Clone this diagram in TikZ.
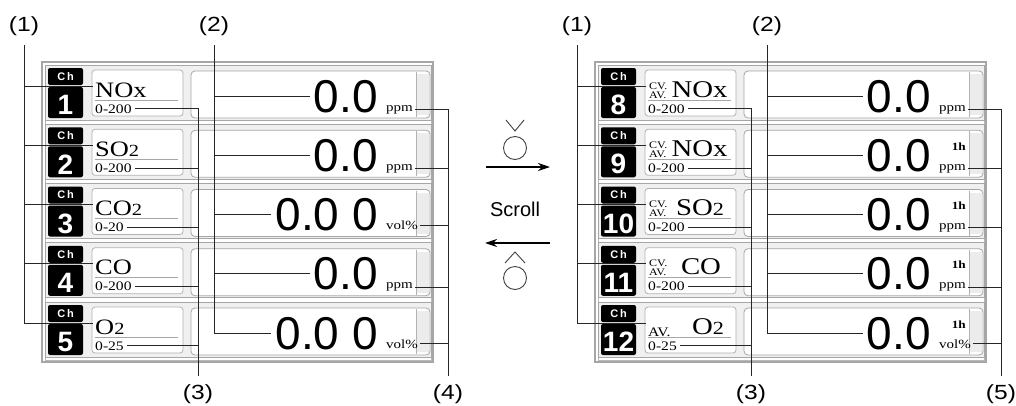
\documentclass[tikz,border=0pt]{standalone}
\usepackage{fontspec}
\setmainfont{Liberation Sans}
\newfontfamily\serifw[FakeStretch=1.2]{Liberation Serif}
\newfontfamily\sansw{Liberation Sans}
\newfontfamily\lblfont[FakeStretch=1.2]{Liberation Sans}
\usetikzlibrary{arrows.meta}
\newcommand{\myfs}[1]{\fontsize{#1}{#1}\selectfont}

\tikzset{
 lead/.style={draw=black!85, line width=0.9pt},
 rowbg/.style={draw=gray!70, fill=gray!12, line width=0.8pt},
 frameout/.style={draw=gray!70, fill=white, line width=1.2pt},
 frameinn/.style={draw=gray!55, line width=0.7pt},
 namebox/.style={draw=gray!60, fill=white, rounded corners=3pt, line width=0.8pt},
 valbox/.style={draw=gray!70, fill=white, rounded corners=4pt, line width=0.8pt},
 chhead/.style={text=white, inner sep=0pt, font=\sansw\bfseries\myfs{11}},
 chnum/.style={text=white, inner sep=0pt, font=\sansw\bfseries\myfs{28}},
 nametxt/.style={inner sep=0pt, font=\serifw\myfs{22}},
 rnametxt/.style={inner sep=0pt, font=\serifw\myfs{24}},
 cvtxt/.style={inner sep=0pt, font=\serifw\myfs{10}},
 rangetxt/.style={inner ysep=0pt, inner xsep=3pt, font=\serifw\myfs{13}},
 valtxt/.style={inner ysep=0pt, inner xsep=4pt, font=\sansw\myfs{46}},
 unittxt/.style={inner ysep=0pt, inner xsep=2pt, font=\serifw\myfs{12.5}},
 hourtxt/.style={inner sep=0pt, font=\serifw\bfseries\myfs{11}},
 ulinestyle/.style={draw=gray!70, line width=1pt},
 lbl/.style={font=\lblfont\myfs{20.5}, inner sep=0pt},
 scrollarrow/.style={line width=2.2pt, -{Stealth[length=12pt,width=8pt]}},
 keyicon/.style={draw=black!75, line width=0.9pt},
}

\newcommand{\dispframe}[3]{%
  \draw[rowbg] (45,#2-3) rectangle (431,#2+52);
  \fill[black, rounded corners=2pt] (48,#2) rectangle (83,#2+17);
  \fill[black, rounded corners=2pt] (48,#2+19) rectangle (83,#2+50);
  \node[chhead] (chh#1) at (65.5,#2+8.5) {C\,h};
  \node[chnum] (chn#1) at (65.5,#2+37) {#3};
  \draw[namebox] (92,#2+2) rectangle (183,#2+48);
  \draw[valbox] (191,#2+3) rectangle (430,#2+50);
  \fill[gray!15] (416,#2+6) rectangle (428.5,#2+47);
  \draw[gray!60, line width=0.6pt] (416,#2+4) -- (416,#2+49);
  \draw[ulinestyle] (95,#2+32) -- (178,#2+32);
  \coordinate (k#1) at (93,#2+18);
}

\begin{document}
\begin{tikzpicture}[x=1pt, y=-1pt]
\useasboundingbox (0,0) rectangle (1016,405);

% ================= LEFT PANEL =================
\draw[frameout] (42,62) rectangle (433,362);
\draw[frameinn] (45,65) rectangle (431,360);

\dispframe{a1}{68}{1}
\node[nametxt, anchor=base west] (nma1) at (95,68+29) {NOx};
\node[rangetxt, anchor=base west] (rga1) at (92,68+45) {0-200};
\node[valtxt, anchor=base east] (vla1) at (382,68+44) {0.0};
\node[unittxt, anchor=base west] (una1) at (384,68+43) {ppm};

\dispframe{a2}{127.25}{2}
\node[nametxt, anchor=base west] (nma2) at (95,127.25+29) {SO{\myfs{17}2}};
\node[rangetxt, anchor=base west] (rga2) at (92,127.25+45) {0-200};
\node[valtxt, anchor=base east] (vla2) at (382,127.25+44) {0.0};
\node[unittxt, anchor=base west] (una2) at (384,127.25+43) {ppm};

\dispframe{a3}{186.5}{3}
\node[nametxt, anchor=base west] (nma3) at (95,186.5+29) {CO{\myfs{17}2}};
\node[rangetxt, anchor=base west] (rga3) at (92,186.5+45) {0-20};
\node[valtxt, anchor=base east] (vla3) at (382,186.5+44) {0.0 0};
\node[unittxt, anchor=base west] (una3) at (384,186.5+43) {vol\%};

\dispframe{a4}{245.75}{4}
\node[nametxt, anchor=base west] (nma4) at (95,245.75+29) {CO};
\node[rangetxt, anchor=base west] (rga4) at (92,245.75+45) {0-200};
\node[valtxt, anchor=base east] (vla4) at (382,245.75+44) {0.0};
\node[unittxt, anchor=base west] (una4) at (384,245.75+43) {ppm};

\dispframe{a5}{305}{5}
\node[nametxt, anchor=base west] (nma5) at (95,305+29) {O{\myfs{17}2}};
\node[rangetxt, anchor=base west] (rga5) at (92,305+45) {0-25};
\node[valtxt, anchor=base east] (vla5) at (382,305+44) {0.0 0};
\node[unittxt, anchor=base west] (una5) at (384,305+43) {vol\%};

% labels and leaders (left)
\node[lbl] (La1) at (24,26) {(1)};
\node[lbl] (La2) at (214,26) {(2)};
\node[lbl] (La3) at (198,394) {(3)};
\node[lbl] (La4) at (448,394) {(4)};

\draw[lead] ([yshift=-9pt]La1.south) |- (ka5);
\foreach \r in {a1,a2,a3,a4} \draw[lead] (k\r) -- (k\r -| La1);

\draw[lead] ([yshift=-9pt]La2.south) |- (vla5.west);
\foreach \r in {a1,a2,a3,a4} \draw[lead] (vl\r.west) -- (vl\r.west -| La2);

\draw[lead] (rga1.east) -| ([yshift=8pt]La3.north);
\foreach \r in {a2,a3,a4,a5} \draw[lead] (rg\r.east) -- (rg\r.east -| La3);

\draw[lead] (una1.east) -| ([yshift=8pt]La4.north);
\foreach \r in {a2,a3,a4,a5} \draw[lead] (un\r.east) -- (un\r.east -| La4);

% ================= MIDDLE =================
\coordinate (dnv) at (515,131);
\draw[keyicon] (506,120) -- (dnv) -- (524,120);
\node[keyicon, circle, minimum size=23pt, inner sep=0pt] (dnkey) at (515,148) {};
\coordinate (arAs) at (486,167);
\coordinate (arAe) at (550,167);
\draw[scrollarrow] (arAs) -- (arAe);
\node[font=\sansw\myfs{20}, inner sep=0pt] (scroll) at (515,209) {Scroll};
\coordinate (arBs) at (550,243);
\coordinate (arBe) at (485,243);
\draw[scrollarrow] (arBs) -- (arBe);
\coordinate (upv) at (515,252);
\draw[keyicon] (505,263) -- (upv) -- (525,263);
\node[keyicon, circle, minimum size=23pt, inner sep=0pt] (upkey) at (515,278) {};

% ================= RIGHT PANEL =================
\begin{scope}[xshift=553pt]
\draw[frameout] (42,62) rectangle (433,362);
\draw[frameinn] (45,65) rectangle (431,360);

\dispframe{b1}{68}{8}
\node[cvtxt, anchor=base west] (cvb1) at (96,68+21) {CV.};
\node[cvtxt, anchor=base west] (avb1) at (96,68+30) {AV.};
\node[rnametxt, anchor=base] (nmb1) at (146.5,68+29) {NOx};
\node[rangetxt, anchor=base west] (rgb1) at (92,68+45) {0-200};
\node[valtxt, anchor=base east] (vlb1) at (382,68+44) {0.0};
\node[unittxt, anchor=base west] (unb1) at (384,68+43) {ppm};

\dispframe{b2}{127.25}{9}
\node[cvtxt, anchor=base west] (cvb2) at (96,127.25+21) {CV.};
\node[cvtxt, anchor=base west] (avb2) at (96,127.25+30) {AV.};
\node[rnametxt, anchor=base] (nmb2) at (146.5,127.25+29) {NOx};
\node[rangetxt, anchor=base west] (rgb2) at (92,127.25+45) {0-200};
\node[valtxt, anchor=base east] (vlb2) at (382,127.25+44) {0.0};
\node[unittxt, anchor=base west] (unb2) at (384,127.25+43) {ppm};
\node[hourtxt, anchor=base east] (hrb2) at (413,127.25+23) {1h};

\dispframe{b3}{186.5}{10}
\node[cvtxt, anchor=base west] (cvb3) at (96,186.5+21) {CV.};
\node[cvtxt, anchor=base west] (avb3) at (96,186.5+30) {AV.};
\node[rnametxt, anchor=base] (nmb3) at (147,186.5+29) {SO{\myfs{18.5}2}};
\node[rangetxt, anchor=base west] (rgb3) at (92,186.5+45) {0-200};
\node[valtxt, anchor=base east] (vlb3) at (382,186.5+44) {0.0};
\node[unittxt, anchor=base west] (unb3) at (384,186.5+43) {ppm};
\node[hourtxt, anchor=base east] (hrb3) at (413,186.5+23) {1h};

\dispframe{b4}{245.75}{11}
\node[cvtxt, anchor=base west] (cvb4) at (96,245.75+21) {CV.};
\node[cvtxt, anchor=base west] (avb4) at (96,245.75+30) {AV.};
\node[rnametxt, anchor=base] (nmb4) at (148,245.75+29) {CO};
\node[rangetxt, anchor=base west] (rgb4) at (92,245.75+45) {0-200};
\node[valtxt, anchor=base east] (vlb4) at (382,245.75+44) {0.0};
\node[unittxt, anchor=base west] (unb4) at (384,245.75+43) {ppm};
\node[hourtxt, anchor=base east] (hrb4) at (413,245.75+23) {1h};

\dispframe{b5}{305}{12}
\node[cvtxt, font=\serifw\myfs{13}, anchor=base west] (avb5) at (95,305+31) {AV.};
\node[rnametxt, anchor=base] (nmb5) at (155,305+29) {O{\myfs{18.5}2}};
\node[rangetxt, anchor=base west] (rgb5) at (92,305+45) {0-25};
\node[valtxt, anchor=base east] (vlb5) at (382,305+44) {0.0};
\node[unittxt, anchor=base west] (unb5) at (384,305+43) {vol\%};
\node[hourtxt, anchor=base east] (hrb5) at (413,305+23) {1h};

\node[lbl] (Lb1) at (24,26) {(1)};
\node[lbl] (Lb2) at (214,26) {(2)};
\node[lbl] (Lb3) at (198,394) {(3)};
\node[lbl] (Lb5) at (448,394) {(5)};

\draw[lead] ([yshift=-9pt]Lb1.south) |- (kb5);
\foreach \r in {b1,b2,b3,b4} \draw[lead] (k\r) -- (k\r -| Lb1);

\draw[lead] ([yshift=-9pt]Lb2.south) |- (vlb5.west);
\foreach \r in {b1,b2,b3,b4} \draw[lead] (vl\r.west) -- (vl\r.west -| Lb2);

\draw[lead] (rgb1.east) -| ([yshift=8pt]Lb3.north);
\foreach \r in {b2,b3,b4,b5} \draw[lead] (rg\r.east) -- (rg\r.east -| Lb3);

\draw[lead] (unb1.east) -| ([yshift=8pt]Lb5.north);
\foreach \r in {b2,b3,b4,b5} \draw[lead] (un\r.east) -- (un\r.east -| Lb5);
\end{scope}
\end{tikzpicture}
\end{document}
